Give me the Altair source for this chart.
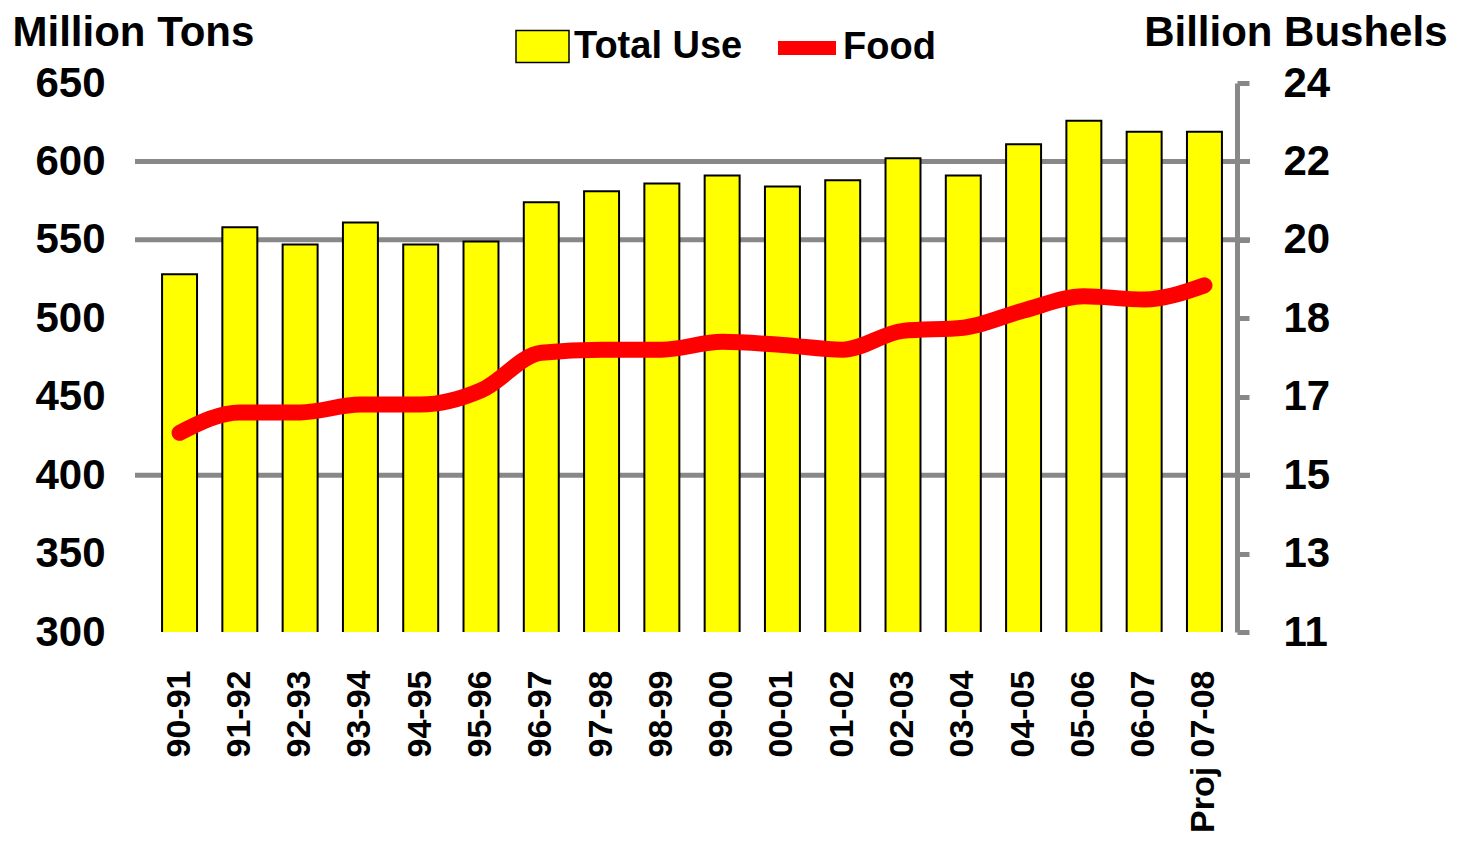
import altair as alt
import pandas as pd

categories = ["90-91", "91-92", "92-93", "93-94", "94-95", "95-96", "96-97", "97-98",
              "98-99", "99-00", "00-01", "01-02", "02-03", "03-04", "04-05", "05-06",
              "06-07", "Proj 07-08"]
total_use = [528, 558, 547, 561, 547, 549, 574, 581, 586, 591, 584, 588, 602, 591, 611, 626, 619, 619]
food = [427, 440, 440, 445, 445, 454, 478, 480, 480, 485, 483, 480, 492, 494, 505, 514, 512, 521]
left_ticks = [300, 350, 400, 450, 500, 550, 600, 650]
right_tick_labels = ["11", "13", "15", "17", "18", "20", "22", "24"]
grid_values = [400, 550, 600]

df = pd.DataFrame({"cat": categories, "total": total_use, "food": food,
                   "s1": "Total Use", "s2": "Food"})
grid_df = pd.DataFrame({"g": grid_values})

W, H = 1090, 549
FONT = "Liberation Sans"

label_expr = " : ".join(
    f"datum.value == {v} ? '{l}'" for v, l in zip(left_ticks, right_tick_labels)
) + " : ''"

x = alt.X("cat:N", sort=categories, title=None,
          scale=alt.Scale(paddingInner=0.42, paddingOuter=0.25),
          axis=alt.Axis(labelAngle=-90, labelFont=FONT, labelFontWeight="bold",
                        labelFontSize=34, labelColor="black", ticks=False, tickSize=0,
                        domain=False, labelPadding=38, grid=False, labelLimit=0))

yscale = alt.Scale(domain=[300, 650], nice=False, zero=False)

grid = alt.Chart(grid_df).mark_rule(color="#888888", strokeWidth=5).encode(
    y=alt.Y("g:Q", scale=yscale, axis=None),
    x=alt.value(-12), x2=alt.value(W + 13))

bars = alt.Chart(df).mark_bar(stroke="black", strokeWidth=2, clip=True).encode(
    x=x,
    y=alt.Y("total:Q", scale=yscale, title="Million Tons",
            axis=alt.Axis(values=left_ticks, labelFont=FONT, labelFontWeight="bold",
                          labelFontSize=42, labelColor="black", ticks=False, tickSize=0,
                          domain=False, grid=False, labelPadding=42,
                          titleAngle=0, titleAlign="left", titleBaseline="alphabetic",
                          titleX=-135, titleY=-38, titleFont=FONT, titleFontSize=42,
                          titleFontWeight="bold", titleColor="black")),
    fill=alt.Fill("s1:N", scale=alt.Scale(domain=["Total Use"], range=["#FFFF00"]),
                  legend=alt.Legend(title=None, orient="none", legendX=368, legendY=-64,
                                    symbolType="M-1,-0.6H1V0.6H-1Z", symbolSize=2809,
                                    symbolStrokeColor="black", symbolStrokeWidth=1.5,
                                    labelFont=FONT, labelFontWeight="bold", labelFontSize=38,
                                    labelColor="black", labelOffset=4, padding=0,
                                    labelLimit=0)),
)

line = alt.Chart(df).mark_line(strokeWidth=16, strokeCap="round", strokeJoin="round",
                               interpolate="monotone").encode(
    x=x,
    y=alt.Y("food:Q", scale=yscale, title="Billion Bushels",
            axis=alt.Axis(orient="right", values=left_ticks, labelExpr=label_expr,
                          labelFont=FONT, labelFontWeight="bold", labelFontSize=42,
                          labelColor="black", ticks=True, tickSize=12, tickWidth=5,
                          tickColor="#888888", domain=True, domainColor="#888888",
                          domainWidth=5, grid=False, labelPadding=34,
                          titleAngle=0, titleAlign="right", titleBaseline="alphabetic",
                          titleX=210, titleY=-38, titleFont=FONT, titleFontSize=42,
                          titleFontWeight="bold", titleColor="black")),
    stroke=alt.Stroke("s2:N", scale=alt.Scale(domain=["Food"], range=["#FF0000"]),
                      legend=alt.Legend(title=None, orient="none", legendX=624, legendY=-71,
                                        symbolType="stroke", symbolSize=3364,
                                        symbolStrokeWidth=14,
                                        labelFont=FONT, labelFontWeight="bold", labelFontSize=38,
                                        labelColor="black", labelOffset=0, padding=0,
                                        labelLimit=0)),
)

chart = alt.layer(grid, bars, line).resolve_scale(
    y="independent", fill="independent", stroke="independent"
).resolve_legend(fill="independent", stroke="independent").properties(
    width=W, height=H,
    background="white",
    autosize=alt.AutoSizeParams(type="none"),
    padding={"left": 139, "top": 75, "right": 215, "bottom": 205},
).configure_view(stroke=None, strokeWidth=0)

chart.save("out.html", embed_options={"renderer": "svg", "actions": False})
